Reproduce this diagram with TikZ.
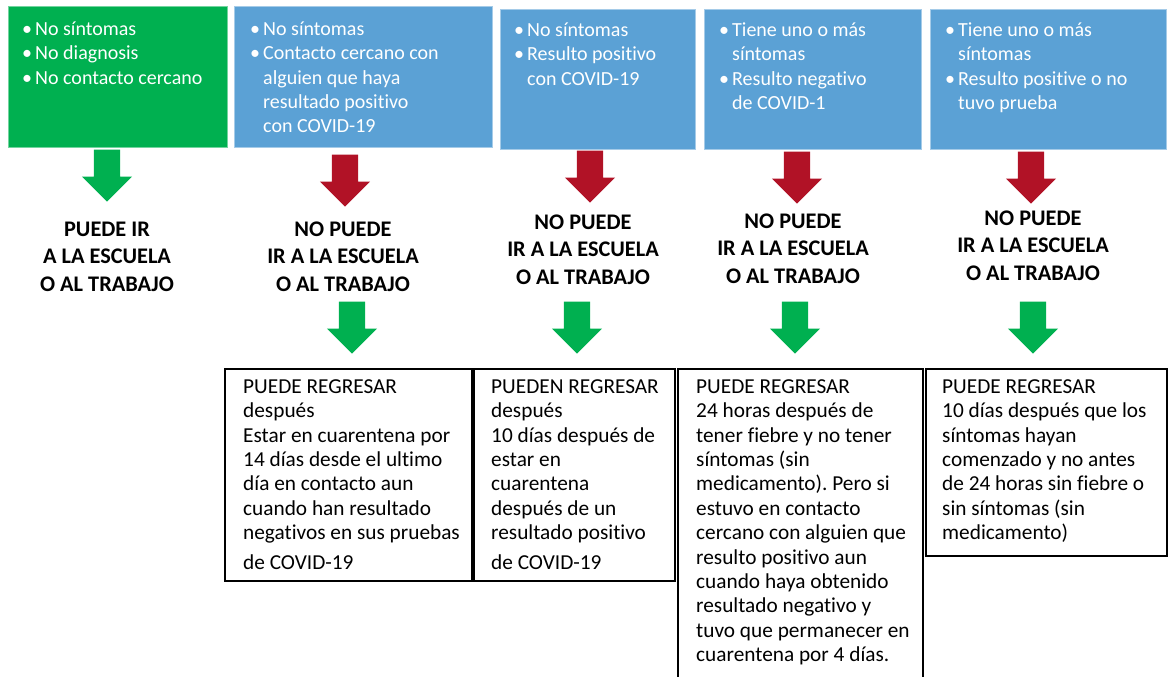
\documentclass[tikz,border=0pt]{standalone}
\usepackage{fontspec}
\setmainfont[Ligatures={NoCommon}]{Carlito}
\usetikzlibrary{shapes.arrows}
\definecolor{boxgreen}{HTML}{00B050}
\definecolor{boxblue}{HTML}{5BA1D5}
\definecolor{arrred}{HTML}{B11226}
\definecolor{arrgreen}{HTML}{00B050}
\newcommand{\bitem}{\makebox[13pt][l]{•}}
\newcommand{\bcont}{\hspace*{13pt}}
\frenchspacing

\begin{document}
\begin{tikzpicture}[x=1pt, y=-1pt,
  topbox/.style={rectangle, anchor=north west, inner sep=0pt, fill=#1, draw=#1!55!white, line width=0.7pt},
  toptext/.style={anchor=north west, inner sep=0pt, align=left, text=white, font=\fontsize{20}{24.4}\selectfont},
  downarrow/.style={single arrow, shape border rotate=270, fill=#1, inner sep=13pt, single arrow head extend=12pt, single arrow head indent=0pt, single arrow tip angle=90, minimum height=52pt, anchor=tip},
  verdict/.style={anchor=north, inner sep=0pt, align=center, font=\bfseries\fontsize{22.3}{27.5}\selectfont},
  regbox/.style={rectangle, anchor=north west, inner sep=0pt, draw=black, line width=2pt},
  regtext/.style={anchor=north west, inner sep=0pt, align=left, font=\fontsize{21.3}{24.4}\selectfont}]
\useasboundingbox (0,0) rectangle (1170,677);

\node[topbox=boxgreen, minimum width=219pt, minimum height=141pt] (s1) at (8,6) {};
\node[topbox=boxblue, minimum width=258pt, minimum height=141pt] (s2) at (234,6) {};
\node[topbox=boxblue, minimum width=195pt, minimum height=140pt] (s3) at (500,9) {};
\node[topbox=boxblue, minimum width=217pt, minimum height=140pt] (s4) at (704,9) {};
\node[topbox=boxblue, minimum width=236pt, minimum height=140pt] (s5) at (930,9) {};
\node[toptext] (t1) at (22,18) {\strut\bitem No síntomas\\ \bitem No diagnosis\\ \bitem No contacto cercano};
\node[toptext] (t2) at (250,18) {\strut\bitem No síntomas\\ \bitem Contacto cercano con\\ \bcont alguien que haya\\ \bcont resultado positivo\\ \bcont con COVID-19};
\node[toptext] (t3) at (514,19) {\strut\bitem No síntomas\\ \bitem Resulto positivo\\ \bcont con COVID-19};
\node[toptext] (t4) at (719,19) {\strut\bitem Tiene uno o más\\ \bcont síntomas\\ \bitem Resulto negativo\\ \bcont de COVID-1};
\node[toptext] (t5) at (945,19) {\strut\bitem Tiene uno o más\\ \bcont síntomas\\ \bitem Resulto positive o no\\ \bcont tuvo prueba};

\node[downarrow=arrgreen] (a1) at (107,202) {};
\node[downarrow=arrred] (a2) at (345,207) {};
\node[downarrow=arrred] (a3) at (590,203) {};
\node[downarrow=arrred] (a4) at (797,204) {};
\node[downarrow=arrred] (a5) at (1031,204) {};

\node[verdict] (v1) at (107,217) {\strut PUEDE IR\\ A LA ESCUELA\\ O AL TRABAJO};
\node[verdict] (v2) at (343,217) {\strut NO PUEDE\\ IR A LA ESCUELA\\ O AL TRABAJO};
\node[verdict] (v3) at (583,210) {\strut NO PUEDE\\ IR A LA ESCUELA\\ O AL TRABAJO};
\node[verdict] (v4) at (793,209) {\strut NO PUEDE\\ IR A LA ESCUELA\\ O AL TRABAJO};
\node[verdict] (v5) at (1033,206) {\strut NO PUEDE\\ IR A LA ESCUELA\\ O AL TRABAJO};

\node[downarrow=arrgreen] (b2) at (352,354) {};
\node[downarrow=arrgreen] (b3) at (577,354) {};
\node[downarrow=arrgreen] (b4) at (795,354) {};
\node[downarrow=arrgreen] (b5) at (1033,354) {};

\node[regbox, minimum width=247pt, minimum height=212pt] (r2) at (224,368) {};
\node[regbox, minimum width=201pt, minimum height=212pt] (r3) at (473,368) {};
\node[regbox, minimum width=245pt, minimum height=330pt] (r4) at (677,368) {};
\node[regbox, minimum width=241pt, minimum height=187pt] (r5) at (925,368) {};
\node[regtext] (g2) at (243,376) {\strut PUEDE REGRESAR\\ después\\ Estar en cuarentena por\\ 14 días desde el ultimo\\ día en contacto aun\\ cuando han resultado\\ negativos en sus pruebas\\[5pt] de COVID-19};
\node[regtext] (g3) at (491,376) {\strut PUEDEN REGRESAR\\ después\\ 10 días después de\\ estar en\\ cuarentena\\ después de un\\ resultado positivo\\[5pt] de COVID-19};
\node[regtext] (g4) at (696,376) {\strut PUEDE REGRESAR\\ 24 horas después de\\ tener fiebre y no tener\\ síntomas (sin\\ medicamento). Pero si\\ estuvo en contacto\\ cercano con alguien que\\ resulto positivo aun\\ cuando haya obtenido\\ resultado negativo y\\ tuvo que permanecer en\\ cuarentena por 4 días.};
\node[regtext] (g5) at (942,376) {\strut PUEDE REGRESAR\\ 10 días después que los\\ síntomas hayan\\ comenzado y no antes\\ de 24 horas sin fiebre o\\ sin síntomas (sin\\ medicamento)};
\end{tikzpicture}
\end{document}
